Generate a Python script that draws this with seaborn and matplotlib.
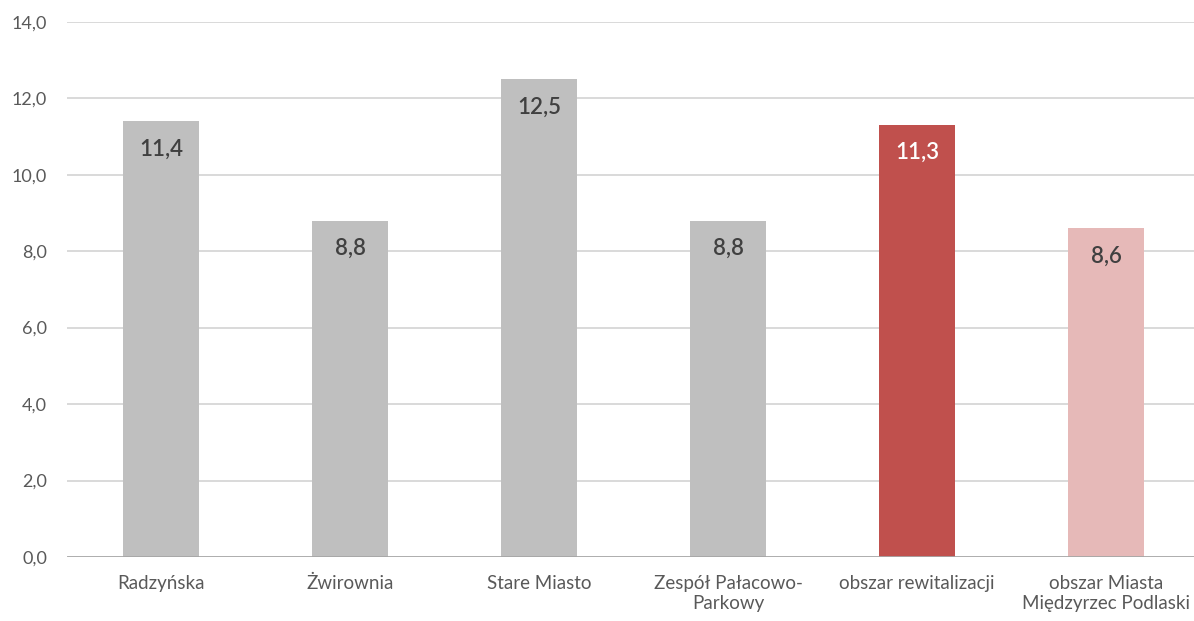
import matplotlib
matplotlib.use("Agg")
import matplotlib.pyplot as plt
import seaborn as sns
import pandas as pd

categories = ["Radzyńska", "Żwirownia", "Stare Miasto", "Zespół Pałacowo-\nParkowy",
              "obszar rewitalizacji", "obszar Miasta\nMiędzyrzec Podlaski"]
values = [11.4, 8.8, 12.5, 8.8, 11.3, 8.6]
colors = ["#BFBFBF", "#BFBFBF", "#BFBFBF", "#BFBFBF", "#C0504D", "#E6B9B8"]
label_colors = ["#404040", "#404040", "#404040", "#404040", "#FFFFFF", "#404040"]
y_ticks = [0, 2, 4, 6, 8, 10, 12, 14]

sns.set_style("white")
plt.rcParams["font.family"] = ["Lato", "DejaVu Sans"]

df = pd.DataFrame({"kategoria": categories, "wartosc": values})

fig = plt.figure(figsize=(11.94, 6.21), dpi=100)
ax = fig.add_axes([0.0557, 0.103, 0.9497, 0.862])
sns.barplot(data=df, x="kategoria", y="wartosc", hue="kategoria",
            palette=colors, saturation=1, linewidth=0, legend=False,
            width=0.40, ax=ax, zorder=3)

ax.set_ylim(0, 14)
ax.set_xlim(-0.5, 5.5)
ax.set_yticks(y_ticks)
ax.set_yticklabels([f"{t:.1f}".replace(".", ",") for t in y_ticks])
for t in y_ticks[1:]:
    ax.axhline(t, color="#D9D9D9", lw=1.4, zorder=1)
ax.axhline(0, color="#A6A6A6", lw=2, zorder=4)

for sp in ax.spines.values():
    sp.set_visible(False)
ax.set_xlabel("")
ax.set_ylabel("")
ax.tick_params(axis="both", length=0, colors="#595959")
ax.tick_params(axis="y", labelsize=13, pad=14)
ax.tick_params(axis="x", labelsize=13.5, pad=13)

for i, (v, c) in enumerate(zip(values, label_colors)):
    ax.annotate(f"{v:.1f}".replace(".", ","), (i, v), xytext=(0, -20),
                textcoords="offset points", ha="center", va="center",
                fontsize=16, fontweight="semibold", color=c, zorder=5)

fig.savefig("out.png", dpi=100)
